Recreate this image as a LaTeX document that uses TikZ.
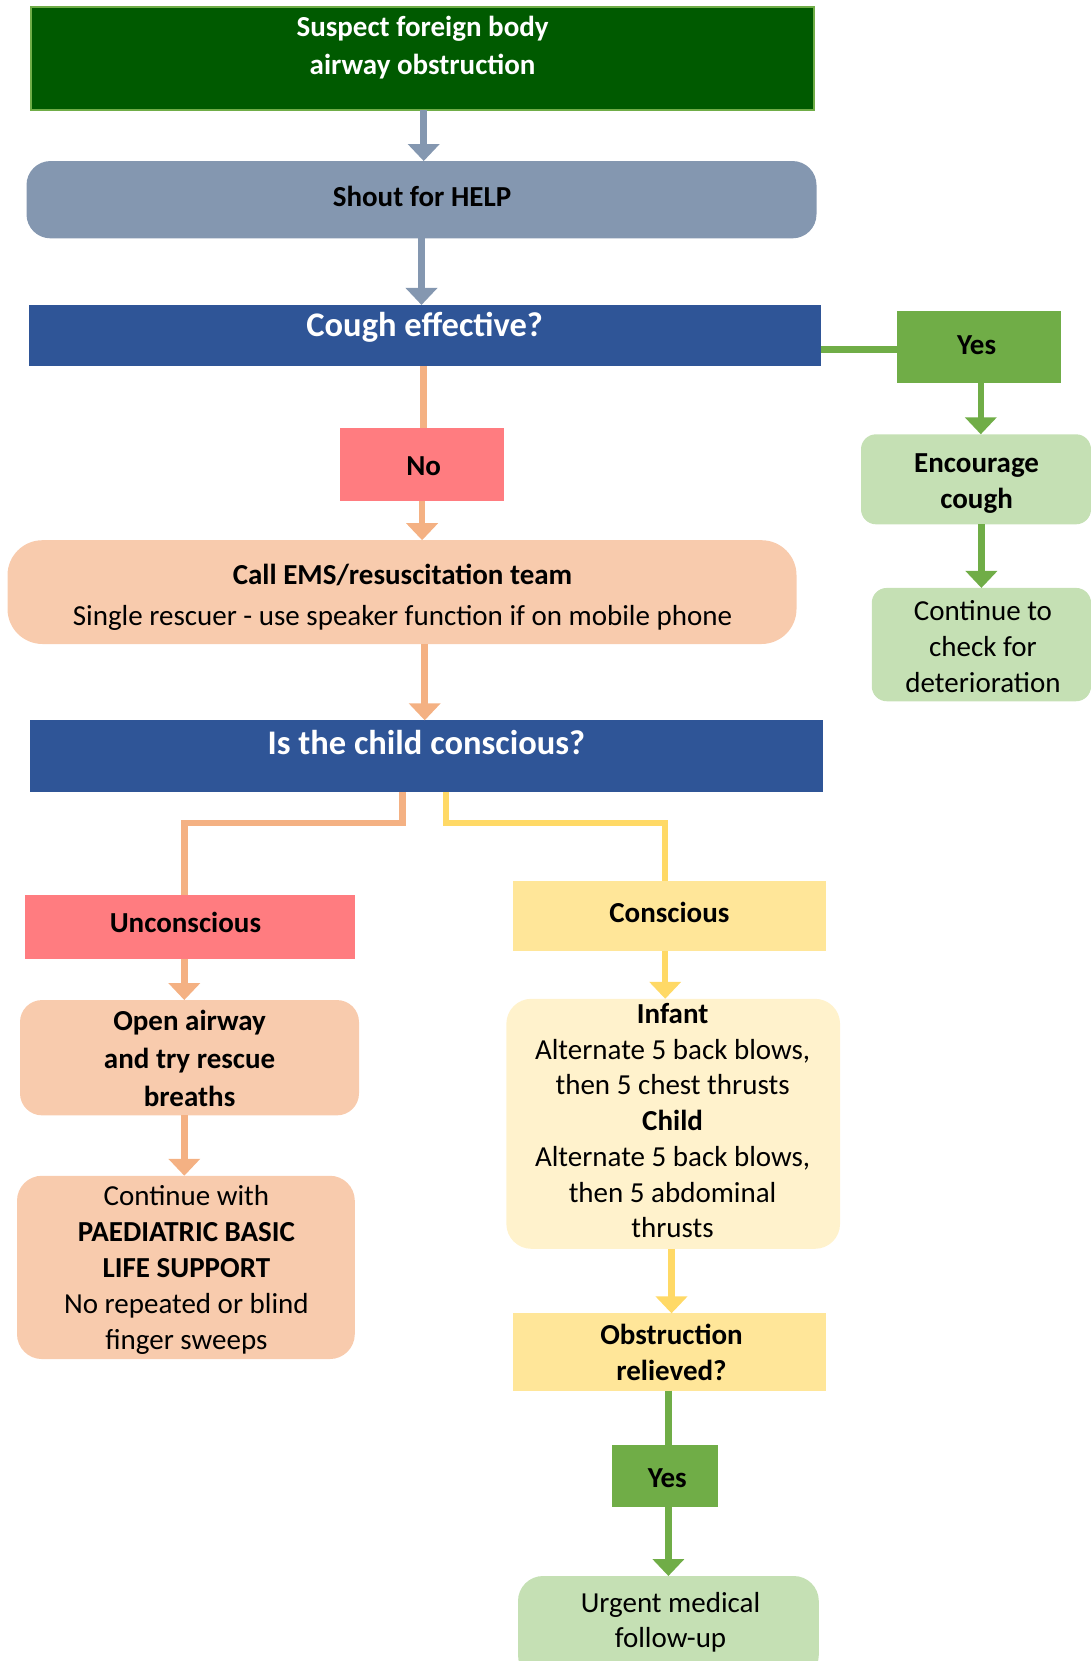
\documentclass[tikz,border=0pt]{standalone}
\usepackage{fontspec}
\setmainfont{Carlito}
\usetikzlibrary{arrows.meta,calc}
\definecolor{dkgreen}{HTML}{005A00}
\definecolor{bordgreen}{HTML}{70AD47}
\definecolor{shoutblue}{HTML}{8497B0}
\definecolor{qblue}{HTML}{2F5597}
\definecolor{yesgreen}{HTML}{70AD47}
\definecolor{ltgreen}{HTML}{C5E0B4}
\definecolor{pinkred}{HTML}{FF7C80}
\definecolor{peach}{HTML}{F8CBAD}
\definecolor{orangeline}{HTML}{F4B183}
\definecolor{yelbox}{HTML}{FFE699}
\definecolor{ltyel}{HTML}{FFF2CC}
\definecolor{yelline}{HTML}{FFD966}
\begin{document}
\begin{tikzpicture}[x=1pt,y=-1pt,
  box/.style={rectangle, draw=none, inner sep=0pt, outer sep=0pt},
  txt/.style={inner sep=0pt, outer sep=0pt, align=center, font=\fontsize{29}{36}\selectfont},
  btxt/.style={inner sep=0pt, outer sep=0pt, align=center, font=\fontsize{29}{36}\selectfont\bfseries},
  conn/.style={line width=6.5pt},
  tipped/.style={line width=6.5pt, -{Triangle[width=31pt,length=17pt]}},
]
\useasboundingbox (0,0) rectangle (1091,1661);
\clip (0,0) rectangle (1091,1661);

% boxes
\node[box, fill=dkgreen, draw=bordgreen, line width=2pt, minimum width=782.8pt, minimum height=102.8pt] (top) at (422.1,58.8) {};
\node[box, fill=shoutblue, rounded corners=24pt, minimum width=790pt, minimum height=77.3pt] (shout) at (421.5,199.7) {};
\node[box, fill=qblue, minimum width=792.3pt, minimum height=61.5pt] (cough) at (424.7,335.7) {};
\node[box, fill=yesgreen, minimum width=164.3pt, minimum height=72pt] (yes1) at (979.2,347.4) {};
\node[box, fill=ltgreen, rounded corners=15pt, minimum width=230pt, minimum height=90pt] (enc) at (976,479.3) {};
\node[box, fill=ltgreen, rounded corners=15pt, minimum width=219.3pt, minimum height=113.3pt] (cont) at (981.4,644.6) {};
\node[box, fill=pinkred, minimum width=164.2pt, minimum height=73.1pt] (no) at (422.1,464.5) {};
\node[box, fill=peach, rounded corners=35pt, minimum width=789pt, minimum height=103.8pt] (call) at (402,592.1) {};
\node[box, fill=qblue, minimum width=793.3pt, minimum height=72pt] (is) at (426.4,756.3) {};
\node[box, fill=pinkred, minimum width=329.4pt, minimum height=63.6pt] (unc) at (190.1,926.8) {};
\node[box, fill=peach, rounded corners=22pt, minimum width=339pt, minimum height=115.3pt] (open) at (189.5,1057.7) {};
\node[box, fill=peach, rounded corners=25pt, minimum width=337.8pt, minimum height=183.3pt] (cwith) at (185.9,1267.4) {};
\node[box, fill=yelbox, minimum width=313.5pt, minimum height=69.9pt] (consc) at (669.5,916.3) {};
\node[box, fill=ltyel, rounded corners=25pt, minimum width=333.7pt, minimum height=250pt] (infant) at (673.2,1123.8) {};
\node[box, fill=yelbox, minimum width=313.5pt, minimum height=77.3pt] (obst) at (669.5,1352) {};
\node[box, fill=yesgreen, minimum width=105.9pt, minimum height=62.5pt] (yes2) at (665.2,1476) {};
\node[box, fill=ltgreen, rounded corners=25pt, minimum width=300.8pt, minimum height=104pt] (urgent) at (668.4,1628) {};

% texts
\node[btxt, text=white, font=\fontsize{29}{38}\selectfont\bfseries] (ttop) at (422.6,48) {\strut Suspect foreign body\\\strut airway obstruction};
\node[btxt] (tshout) at (422,199.8) {\strut Shout for HELP};
\node[btxt, text=white, font=\fontsize{34.5}{41}\selectfont\bfseries] (tcough) at (424.7,328.3) {\strut Cough effective?};
\node[btxt] (tyes1) at (976.6,347.1) {\strut Yes};
\node[btxt] (tenc) at (976.6,483.3) {\strut Encourage\\\strut cough};
\node[txt] (tcont) at (983,648.8) {\strut Continue to\\\strut check for\\\strut deterioration};
\node[btxt] (tno) at (423.7,467.8) {\strut No};
\node[txt, font=\fontsize{29}{41.5}\selectfont] (tcall) at (402.5,596.5) {\strut\textbf{Call EMS/resuscitation team}\\\strut Single rescuer - use speaker function if on mobile phone};
\node[btxt, text=white, font=\fontsize{34.5}{41}\selectfont\bfseries] (tis) at (426.3,745.9) {\strut Is the child conscious?};
\node[btxt] (tunc) at (185.4,925.4) {\strut Unconscious};
\node[btxt, font=\fontsize{29}{38}\selectfont\bfseries] (topen) at (189.6,1060.4) {\strut Open airway\\\strut and try rescue\\\strut breaths};
\node[txt] (tcwith) at (186.4,1269.8) {\strut Continue with\\\strut\textbf{PAEDIATRIC BASIC}\\\strut\textbf{LIFE SUPPORT}\\\strut No repeated or blind\\\strut finger sweeps};
\node[btxt] (tconsc) at (669.4,914.8) {\strut Conscious};
\node[txt, font=\fontsize{29}{35.7}\selectfont] (tinfant) at (672.6,1123.5) {\strut\textbf{Infant}\\\strut Alternate 5 back blows,\\\strut then 5 chest thrusts\\\strut\textbf{Child}\\\strut Alternate 5 back blows,\\\strut then 5 abdominal\\\strut thrusts};
\node[btxt] (tobst) at (671.5,1355.5) {\strut Obstruction\\\strut relieved?};
\node[btxt] (tyes2) at (667.3,1480.4) {\strut Yes};
\node[txt, font=\fontsize{29}{35}\selectfont] (turgent) at (670.5,1622.9) {\strut Urgent medical\\\strut follow-up};

% connectors
\draw[tipped, shoutblue] ([xshift=1.6pt]top.south) -- ([xshift=1.6pt]top.south |- shout.north);
\draw[tipped, shoutblue] (shout.south) -- (shout.south |- cough.north);
\draw[conn, yesgreen] ([yshift=-2pt]yes1.west) -- ([yshift=-2pt]yes1.west -| cough.east);
\draw[tipped, yesgreen] ([xshift=1.6pt]yes1.south) -- ([xshift=1.6pt]yes1.south |- enc.north);
\draw[tipped, yesgreen] (cont.north |- enc.south) -- (cont.north);
\draw[conn, orangeline] ([xshift=1.6pt]no.north |- cough.south) -- ([xshift=1.6pt]no.north);
\draw[tipped, orangeline] (no.south) -- (no.south |- call.north);
\draw[tipped, orangeline] ([xshift=-1.7pt]is.north |- call.south) -- ([xshift=-1.7pt]is.north);
\draw[conn, orangeline] ([xshift=-23.9pt]is.south) -- ++(0,30.7) -| ([xshift=-5.8pt]unc.north);
\draw[conn, yelline] ([xshift=19.6pt]is.south) -- ++(0,30.7) -| ([xshift=-4.3pt]consc.north);
\draw[tipped, orangeline] ([xshift=-5.8pt]unc.south) -- ([xshift=-5.8pt]unc.south |- open.north);
\draw[tipped, orangeline] ([xshift=-5.2pt]open.south) -- ([xshift=-5.2pt]open.south |- cwith.north);
\draw[tipped, yelline] ([xshift=-4.3pt]consc.south) -- ([xshift=-4.3pt]consc.south |- infant.north);
\draw[tipped, yelline] ([xshift=-1.7pt]infant.south) -- ([xshift=-1.7pt]infant.south |- obst.north);
\draw[conn, yesgreen] ([xshift=-1.1pt]obst.south) -- ([xshift=-1.1pt]obst.south |- yes2.north);
\draw[tipped, yesgreen] ([xshift=3.2pt]yes2.south) -- ([xshift=3.2pt]yes2.south |- urgent.north);
\end{tikzpicture}
\end{document}
